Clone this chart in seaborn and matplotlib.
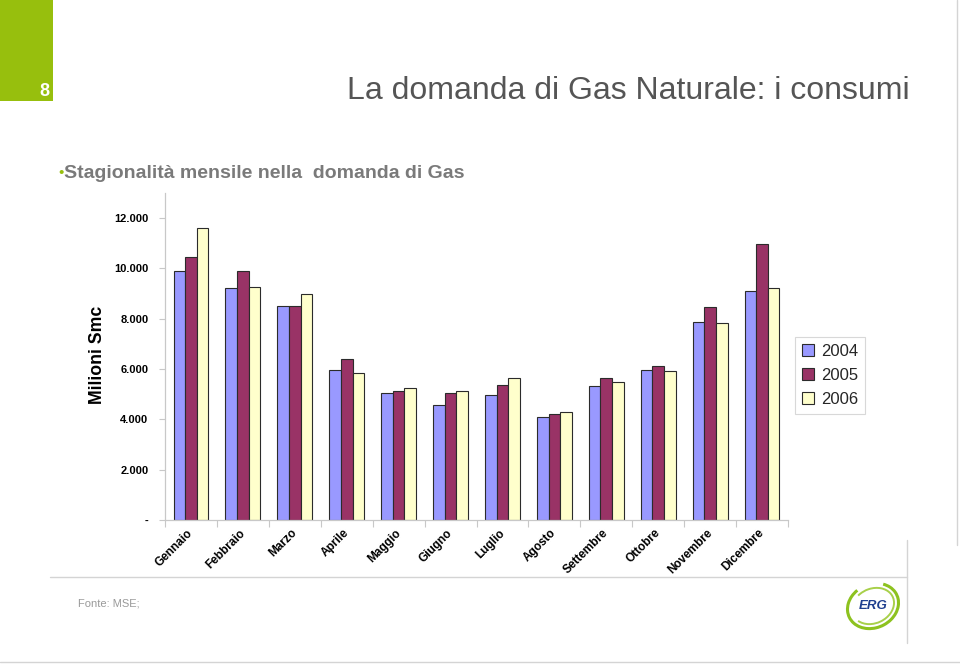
import numpy as np
import pandas as pd
import matplotlib
matplotlib.use("Agg")
import matplotlib.pyplot as plt
import matplotlib.transforms as mtransforms
import seaborn as sns
from matplotlib.lines import Line2D
from matplotlib.patches import Rectangle, Patch, Arc

mesi = ["Gennaio", "Febbraio", "Marzo", "Aprile", "Maggio", "Giugno", "Luglio",
        "Agosto", "Settembre", "Ottobre", "Novembre", "Dicembre"]
anni = ["2004", "2005", "2006"]
v2004 = [9900, 9220, 8520, 5980, 5040, 4560, 4970, 4080, 5330, 5950, 7860, 9110]
v2005 = [10450, 9900, 8520, 6390, 5140, 5050, 5360, 4220, 5640, 6110, 8460, 10980]
v2006 = [11610, 9260, 8990, 5850, 5250, 5140, 5640, 4300, 5480, 5910, 7840, 9220]
colori = ["#9999FF", "#993366", "#FFFFCC"]
yticks = [0, 2000, 4000, 6000, 8000, 10000, 12000]
ytick_labels = ["-", "2.000", "4.000", "6.000", "8.000", "10.000", "12.000"]

df = pd.DataFrame({
    "Mese": mesi * 3,
    "Anno": [a for a in anni for _ in mesi],
    "Valore": v2004 + v2005 + v2006,
})

sns.set_theme(style="white")
plt.rcParams["font.family"] = ["Liberation Sans", "DejaVu Sans"]

fig = plt.figure(figsize=(9.6, 6.64), dpi=100)
fig.patch.set_facecolor("white")

ax = fig.add_axes([165/960, 1-520/664, (788-165)/960, (520-193)/664])
sns.barplot(data=df, x="Mese", y="Valore", hue="Anno", order=mesi, hue_order=anni,
            palette=colori, width=0.67, edgecolor="#2b2b2b", linewidth=0.8,
            saturation=1, ax=ax, legend=False)

ax.set_xlim(-0.5, 11.5)
ax.set_ylim(0, 13000)
ax.set_xlabel("")
ax.set_ylabel("")
ax.set_yticks(yticks)
ax.set_yticklabels(ytick_labels, fontsize=8, fontweight="bold", color="black")
for s in ["top", "right"]:
    ax.spines[s].set_visible(False)
for s in ["left", "bottom"]:
    ax.spines[s].set_color("#c8c8c8")
    ax.spines[s].set_linewidth(0.9)
ax.tick_params(axis="y", which="major", direction="out", length=4, width=0.8,
               color="#c8c8c8", pad=8, left=True)
ax.set_xticks(np.arange(-0.5, 12, 1), minor=True)
ax.tick_params(axis="x", which="minor", direction="out", length=5, width=0.8,
               color="#c8c8c8", bottom=True)
ax.tick_params(axis="x", which="major", length=0, pad=5)
ax.set_xticks(range(len(mesi)))
ax.set_xticklabels(mesi, rotation=45, ha="right", va="top", rotation_mode="anchor",
                   fontsize=8.5, fontweight="bold", color="black")
shift = mtransforms.ScaledTranslation(-4/100, 0/100, fig.dpi_scale_trans)
for lbl in ax.get_xticklabels():
    lbl.set_transform(lbl.get_transform() + shift)

handles = [Patch(facecolor=c, edgecolor="#2b2b2b", linewidth=0.8) for c in colori]
leg = ax.legend(handles, anni, loc="upper left", bbox_to_anchor=(795/960, 1-337/664),
                bbox_transform=fig.transFigure, borderaxespad=0, frameon=True,
                fancybox=False, framealpha=1, edgecolor="#d8d8d8", fontsize=12,
                handlelength=0.75, handleheight=0.75, handletextpad=0.4,
                labelspacing=0.55, borderpad=0.4)
leg.get_frame().set_linewidth(0.8)

ax.text(97/960, 1-355/664, "Milioni Smc", transform=fig.transFigure, rotation=90,
        ha="center", va="center", fontsize=12.7, fontweight="bold", color="black")

# slide decoration
fig.add_artist(Rectangle((0, 1-101/664), 53/960, 101/664, transform=fig.transFigure,
                         facecolor="#97BF0D", edgecolor="none"))
fig.text(44/960, 1-91/664, "8", ha="center", va="center", fontsize=13,
         fontweight="bold", color="white")
fig.text(910/960, 1-91/664, "La domanda di Gas Naturale: i consumi", ha="right",
         va="center", fontsize=23, color="#555555")
fig.text(58/960, 1-173/664, "•", ha="left", va="center", fontsize=11, color="#97BF0D")
fig.text(64/960, 1-173/664, "Stagionalità mensile nella  domanda di Gas", ha="left",
         va="center", fontsize=14, fontweight="bold", color="#7a7a7a")
fig.text(78/960, 1-604/664, "Fonte: MSE;", ha="left", va="center", fontsize=8,
         color="#9a9a9a")

lc = "#d4d4d4"
fig.add_artist(Line2D([957/960, 957/960], [1.0, 1-545/664], transform=fig.transFigure,
                      color=lc, lw=1))
fig.add_artist(Line2D([50/960, 907/960], [1-577/664, 1-577/664], transform=fig.transFigure,
                      color=lc, lw=1))
fig.add_artist(Line2D([907/960, 907/960], [1-540/664, 1-643/664], transform=fig.transFigure,
                      color=lc, lw=1))
fig.add_artist(Line2D([0, 1], [1-662/664, 1-662/664], transform=fig.transFigure,
                      color=lc, lw=1))

# ERG logo
lax = fig.add_axes([843/960, 1-636/664, 60/960, 60/664])
lax.set_xlim(-1, 1)
lax.set_ylim(-1, 1)
lax.axis("off")
lax.add_patch(Arc((0, 0), 1.75, 1.45, angle=25, theta1=110, theta2=400,
                  color="#8DC21F", lw=2.2))
lax.add_patch(Arc((0, 0), 1.45, 1.15, angle=25, theta1=200, theta2=480,
                  color="#A8D04A", lw=1.4))
lax.text(0.02, 0.0, "ERG", ha="center", va="center", fontsize=9.5, fontweight="bold",
         fontstyle="italic", color="#1F3F8F")

fig.savefig("out.png", dpi=100)
